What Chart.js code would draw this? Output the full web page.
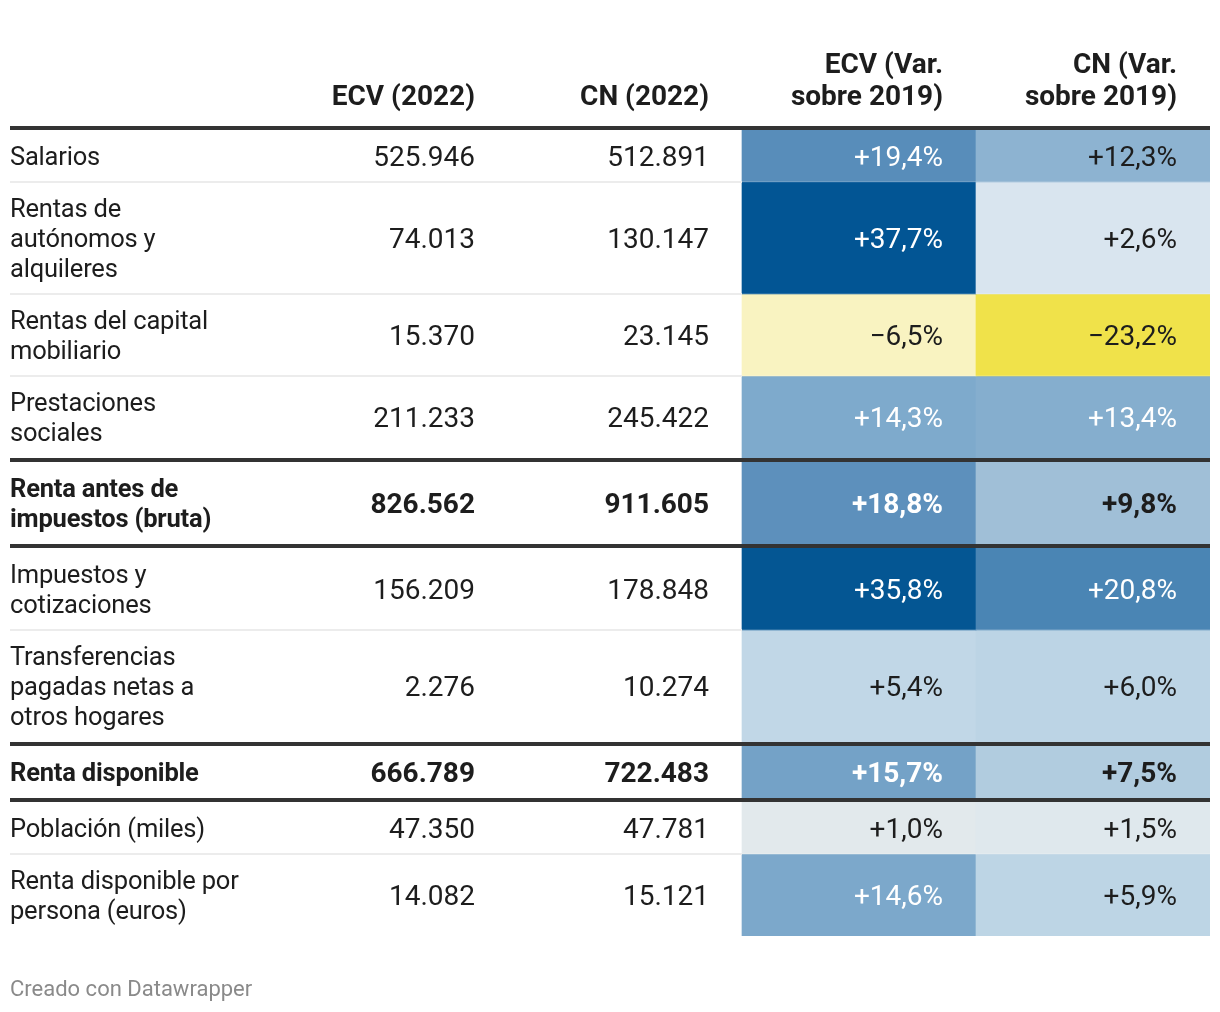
<!DOCTYPE html>
<html>
<head>
<meta charset="utf-8">
<script src="https://cdn.jsdelivr.net/npm/chart.js@4"></script>
<style>
  html, body { margin: 0; padding: 0; background: #fff; }
</style>
</head>
<body>
<canvas id="table" width="1220" height="1012"></canvas>
<script>
// row labels (already wrapped the way the original shows them)
const rowLabels = [
  ['Salarios'],
  ['Rentas de', 'autónomos y', 'alquileres'],
  ['Rentas del capital', 'mobiliario'],
  ['Prestaciones', 'sociales'],
  ['Renta antes de', 'impuestos (bruta)'],
  ['Impuestos y', 'cotizaciones'],
  ['Transferencias', 'pagadas netas a', 'otros hogares'],
  ['Renta disponible'],
  ['Población (miles)'],
  ['Renta disponible por', 'persona (euros)']
];
const totalRows = [false, false, false, false, true, false, false, true, false, false];
const columns = [['ECV (2022)'], ['CN (2022)'], ['ECV (Var.', 'sobre 2019)'], ['CN (Var.', 'sobre 2019)']];
const ecv2022 = [525946, 74013, 15370, 211233, 826562, 156209, 2276, 666789, 47350, 14082];
const cn2022 = [512891, 130147, 23145, 245422, 911605, 178848, 10274, 722483, 47781, 15121];
const ecvVar = [19.4, 37.7, -6.5, 14.3, 18.8, 35.8, 5.4, 15.7, 1.0, 14.6];
const cnVar = [12.3, 2.6, -23.2, 13.4, 9.8, 20.8, 6.0, 7.5, 1.5, 5.9];

// diverging colour scale (yellow - grey - blue)
const gradient = [
  [-23.2, '#f0e24a'], [-6.5, '#f9f3c1'], [1.0, '#e2e9ec'], [2.6, '#d9e5ef'],
  [6.0, '#bcd4e5'], [9.8, '#a0bfd7'], [14.5, '#7da9cb'], [19.4, '#588dba'],
  [20.8, '#4a85b4'], [35.8, '#045693'], [37.7, '#025594']
];
function hexToRgb(h) {
  return [1, 3, 5].map(i => parseInt(h.slice(i, i + 2), 16));
}
function colorFor(v) {
  if (v <= gradient[0][0]) return gradient[0][1];
  for (let i = 1; i < gradient.length; i++) {
    if (v <= gradient[i][0]) {
      const [v0, c0] = gradient[i - 1], [v1, c1] = gradient[i];
      const t = (v - v0) / (v1 - v0);
      const a = hexToRgb(c0), b = hexToRgb(c1);
      return 'rgb(' + a.map((x, k) => Math.round(x + (b[k] - x) * t)).join(',') + ')';
    }
  }
  return gradient[gradient.length - 1][1];
}
const fmtInt = v => String(v).replace(/\B(?=(\d{3})+(?!\d))/g, '.');
const fmtPct = v => (v < 0 ? '\u2212' : '+') + Math.abs(v).toFixed(1).replace('.', ',') + '%';

// row spans in layout units
const LINE = 30, PAD = 22, GAP = 4;
const spans = [];
const thickAbove = [];
let acc = 0;
rowLabels.forEach((lines, i) => {
  const thick = i > 0 && (totalRows[i] || totalRows[i - 1]);
  thickAbove.push(thick);
  if (thick) acc += GAP;
  const h = PAD + LINE * lines.length;
  spans.push([acc, acc + h]);
  acc += h;
});
const totalHeight = acc;

const TOP = 130, LEFT_COL = 264, MARGIN = 10, CELL_PAD = 33;
const FONT = 'Roboto, "Noto Sans", sans-serif';
const SIZE = 28, LABEL_SIZE = 25.5;
const TEXT = '#1d1d1d';

const tablePlugin = {
  id: 'tableText',
  afterDatasetsDraw(chart) {
    const ctx = chart.ctx;
    const xs = chart.scales.x, ys = chart.scales.y;
    const colW = xs.width / columns.length;
    const right = i => xs.left + (i + 1) * colW - CELL_PAD;
    const capShift = Math.round(SIZE * 0.355);
    const labelShift = Math.round(LABEL_SIZE * 0.355);
    ctx.save();
    ctx.textBaseline = 'alphabetic';

    // header
    ctx.fillStyle = TEXT;
    ctx.font = 'bold ' + SIZE + 'px ' + FONT;
    ctx.textAlign = 'right';
    const headBase = chart.chartArea.top - 25;
    columns.forEach((lines, c) => {
      lines.forEach((t, k) => {
        ctx.fillText(t, right(c), headBase - (lines.length - 1 - k) * 32);
      });
    });

    // separators
    const xEnd = xs.right;
    const colorLeft = xs.left + 2 * colW;
    rowLabels.forEach((lines, i) => {
      if (i === 0 || thickAbove[i]) return;
      const y = Math.round(ys.getPixelForValue(spans[i][0]));
      ctx.fillStyle = '#ececec';
      ctx.fillRect(MARGIN, y - 1, colorLeft - MARGIN, 2);
      ctx.fillStyle = 'rgba(255,255,255,0.15)';
      ctx.fillRect(colorLeft, y - 1, xEnd - colorLeft, 1);
    });
    ctx.fillStyle = '#333';
    ctx.fillRect(MARGIN, chart.chartArea.top - 4, xEnd - MARGIN, 4);
    rowLabels.forEach((lines, i) => {
      if (!thickAbove[i]) return;
      const y = ys.getPixelForValue(spans[i][0] - GAP / 2);
      ctx.fillRect(MARGIN, Math.round(y - 2), xEnd - MARGIN, 4);
    });

    // body text
    rowLabels.forEach((lines, i) => {
      const mid = (ys.getPixelForValue(spans[i][0]) + ys.getPixelForValue(spans[i][1])) / 2;
      const weight = totalRows[i] ? 'bold ' : '';
      ctx.font = weight + LABEL_SIZE + 'px ' + FONT;
      ctx.fillStyle = TEXT;
      ctx.textAlign = 'left';
      ctx.letterSpacing = '-0.2px';
      lines.forEach((t, k) => {
        ctx.fillText(t, MARGIN, mid + labelShift + (k - (lines.length - 1) / 2) * LINE);
      });
      ctx.letterSpacing = '0px';
      ctx.font = weight + SIZE + 'px ' + FONT;
      ctx.textAlign = 'right';
      ctx.fillText(fmtInt(ecv2022[i]), right(0), mid + capShift);
      ctx.fillText(fmtInt(cn2022[i]), right(1), mid + capShift);
      [ecvVar[i], cnVar[i]].forEach((v, k) => {
        ctx.fillStyle = v >= 13 ? '#ffffff' : TEXT;
        ctx.fillText(fmtPct(v), right(2 + k), mid + capShift);
      });
    });

    // footer
    ctx.textAlign = 'left';
    ctx.font = '22px ' + FONT;
    ctx.fillStyle = '#8a8a8a';
    ctx.fillText('Creado con Datawrapper', MARGIN, chart.chartArea.bottom + 60);
    ctx.restore();
  }
};

new Chart(document.getElementById('table').getContext('2d'), {
  type: 'bar',
  data: {
    labels: columns,
    datasets: rowLabels.map((lines, i) => ({
      label: lines.join(' '),
      data: [null, null, spans[i], spans[i]],
      backgroundColor: [null, null, colorFor(ecvVar[i]), colorFor(cnVar[i])],
      grouped: false,
      borderWidth: 0
    }))
  },
  options: {
    responsive: false,
    animation: false,
    devicePixelRatio: 1,
    layout: {
      padding: { left: MARGIN + LEFT_COL, right: MARGIN, top: TOP, bottom: 1012 - TOP - totalHeight }
    },
    datasets: { bar: { categoryPercentage: 1, barPercentage: 1 } },
    scales: {
      x: { type: 'category', display: false, offset: true },
      y: { type: 'linear', display: false, reverse: true, min: 0, max: totalHeight }
    },
    plugins: { legend: { display: false }, tooltip: { enabled: false } }
  },
  plugins: [tablePlugin]
});
</script>
</body>
</html>
